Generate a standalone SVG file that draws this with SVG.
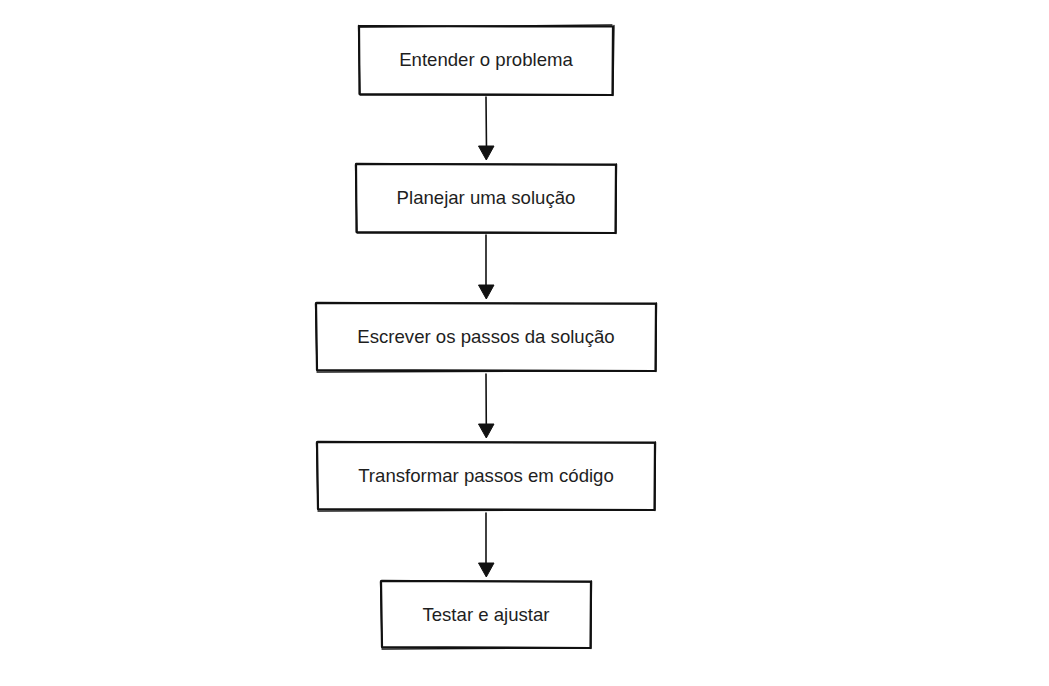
<svg xmlns="http://www.w3.org/2000/svg" width="1049" height="686" viewBox="0 0 1049 686">
<defs>
<style>
.box{fill:#ffffff;stroke:#111;stroke-width:2.2;stroke-linejoin:round;stroke-linecap:round}
.sk{fill:none;stroke:#111;stroke-width:1.3;stroke-linecap:round}
.lbl{font-family:"Liberation Sans",Arial,sans-serif;font-size:18.6px;fill:#1e1e1e;text-anchor:middle;dominant-baseline:central}
.edge{fill:none;stroke:#111;stroke-width:1.6;stroke-linecap:round}
.head{fill:#111;stroke:#111;stroke-width:1}
</style>
</defs>
<rect width="1049" height="686" fill="#ffffff"/>
<g id="connectors">
<path class="edge" d="M486 97 L486.5 150"/>
<polygon class="head" points="478.5,146 494,146 486.3,160"/>
<path class="edge" d="M486 235 L486 288"/>
<polygon class="head" points="478.5,285 494,285 486.3,299"/>
<path class="edge" d="M486 374 L486.3 427"/>
<polygon class="head" points="478.5,424 494,424 486.3,438"/>
<path class="edge" d="M486 513 L486 566"/>
<polygon class="head" points="478.5,563 494,563 486.3,577"/>
</g>
<g id="n1">
<path class="box" d="M359 26 L613 26.5 L612.5 95 L359.5 94 Z"/>
<path class="sk" d="M358.5 27 L612 25 M614 25.5 L613 95.5 M613 95 L360 95 M358.5 25.5 L360 94.5"/>
<text class="lbl" x="486" y="59">Entender o problema</text>
</g>
<g id="n2">
<path class="box" d="M356 164 L616 164.5 L615.5 233 L356.5 232 Z"/>
<path class="sk" d="M356 163.5 L615 165 M616.5 164 L616 233.5 M616 233 L357 233 M355.5 165 L357 231.5"/>
<text class="lbl" x="486" y="197">Planejar uma solução</text>
</g>
<g id="n3">
<path class="box" d="M316 303 L656 303.5 L655.5 371 L317 370 Z"/>
<path class="sk" d="M316.5 302.5 L655 304 M656.5 303 L656 371.5 M655 371 L317 372 M315.5 304 L317 370.5"/>
<text class="lbl" x="486" y="336">Escrever os passos da solução</text>
</g>
<g id="n4">
<path class="box" d="M317 442 L655 442.5 L654.5 510 L318 509 Z"/>
<path class="sk" d="M317.5 441.5 L654 443 M655.5 442 L655 510.5 M654 510 L318 511 M316.5 443 L318 509.5"/>
<text class="lbl" x="486" y="475">Transformar passos em código</text>
</g>
<g id="n5">
<path class="box" d="M381 581 L591 581.5 L590.5 648 L382 647 Z"/>
<path class="sk" d="M381.5 580.5 L590 582 M591.5 581 L591 648.5 M590 648 L382 649 M380.5 582 L382 647.5"/>
<text class="lbl" x="486" y="614">Testar e ajustar</text>
</g>
</svg>
